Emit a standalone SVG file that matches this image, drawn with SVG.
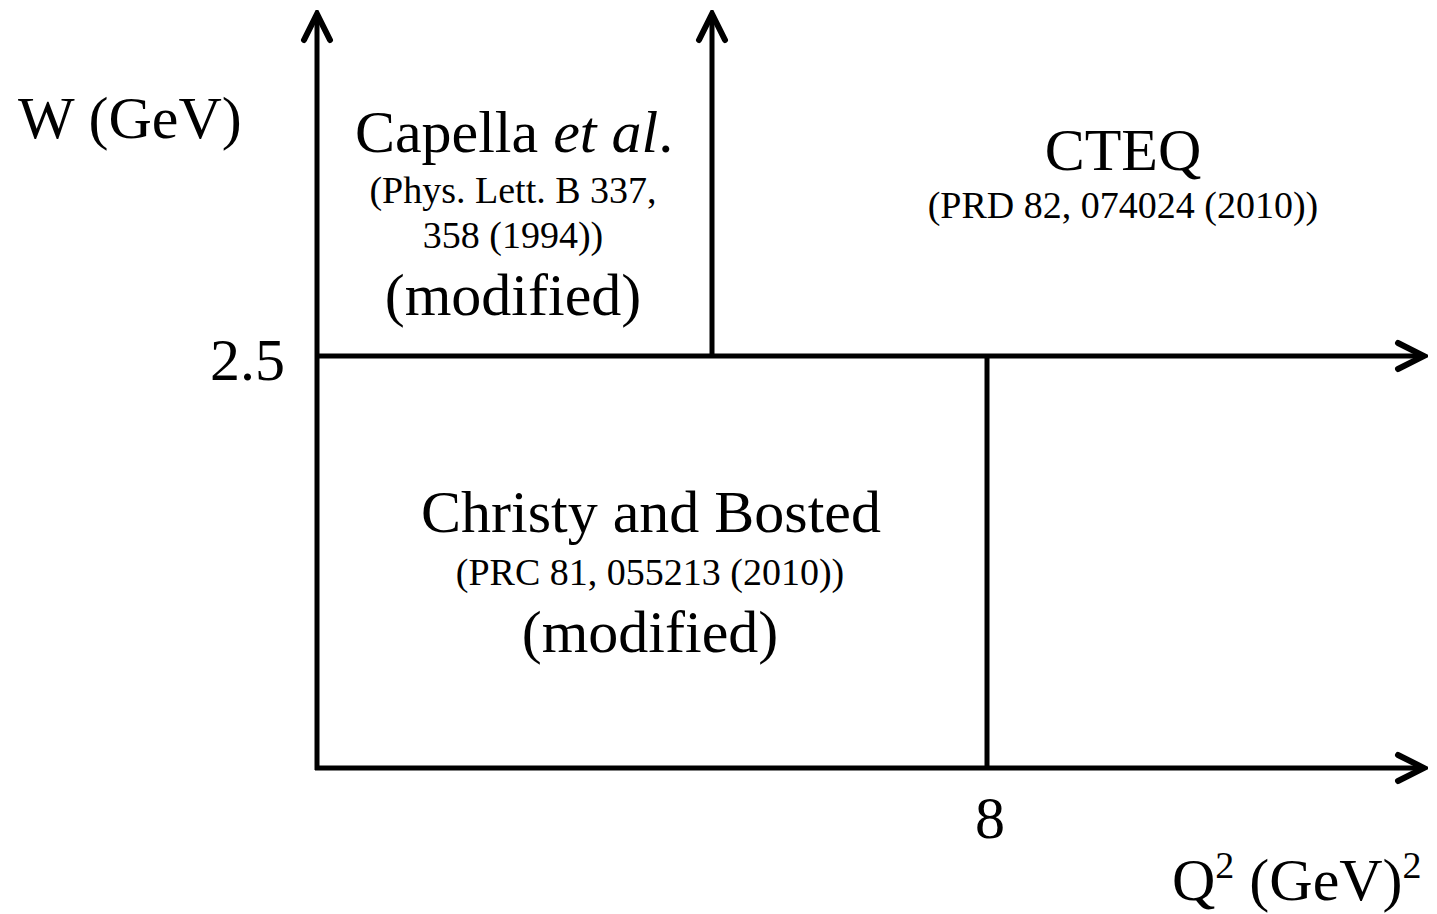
<svg xmlns="http://www.w3.org/2000/svg" width="1437" height="914" viewBox="0 0 1437 914">
<style>
.ax{stroke:#000;stroke-width:5;fill:none;stroke-linecap:butt}
text{font-family:"Liberation Serif","Times New Roman",serif;fill:#000}
.big{font-size:60px}
.small{font-size:38px}
.mid{text-anchor:middle}
</style>
<defs>
<marker id="arr" viewBox="-32 -17 36 34" refX="0" refY="0" markerWidth="36" markerHeight="34" markerUnits="userSpaceOnUse" orient="auto">
<path d="M-26,-13 L0,0 L-26,13" fill="none" stroke="#000" stroke-width="6" stroke-linecap="round"/>
</marker>
</defs>
<rect width="1437" height="914" fill="#fff"/>
<g id="connectors">
<line class="ax" x1="317" y1="770" x2="317" y2="14" marker-end="url(#arr)"/>
<line class="ax" x1="712" y1="356" x2="712" y2="14" marker-end="url(#arr)"/>
<line class="ax" x1="315" y1="356" x2="1424" y2="356" marker-end="url(#arr)"/>
<line class="ax" x1="315" y1="768" x2="1424" y2="768" marker-end="url(#arr)"/>
<line class="ax" x1="987" y1="356" x2="987" y2="768"/>
</g>
<g id="axis-labels">
<text x="18" y="138" class="big">W (GeV)</text>
<text x="210" y="380" class="big">2.5</text>
<text x="990" y="838" class="big mid">8</text>
<text x="1172" y="900" class="big">Q<tspan font-size="38" dy="-22">2</tspan><tspan dy="22"> (GeV)</tspan><tspan font-size="38" dy="-22">2</tspan></text>
</g>
<g id="capella">
<text x="514" y="152" class="big mid">Capella <tspan font-style="italic">et al</tspan>.</text>
<text x="513" y="203" class="small mid">(Phys. Lett. B 337,</text>
<text x="513" y="248" class="small mid">358 (1994))</text>
<text x="513" y="315" class="big mid">(modified)</text>
</g>
<g id="cteq">
<text x="1123" y="170" class="big mid">CTEQ</text>
<text x="1123" y="218" class="small mid">(PRD 82, 074024 (2010))</text>
</g>
<g id="christy">
<text x="651" y="532" class="big mid">Christy and Bosted</text>
<text x="650" y="585" class="small mid">(PRC 81, 055213 (2010))</text>
<text x="650" y="652" class="big mid">(modified)</text>
</g>
</svg>
